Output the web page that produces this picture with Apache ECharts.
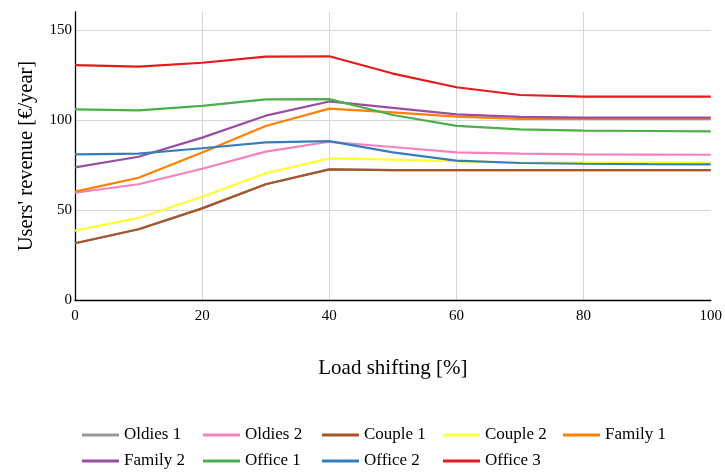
<!DOCTYPE html>
<html>
<head>
<meta charset="utf-8">
<script src="https://cdn.jsdelivr.net/npm/echarts@6/dist/echarts.min.js"></script>
<style>html,body{margin:0;padding:0;background:#fff}#c{width:725px;height:473px}</style>
</head>
<body>
<div id="c"></div>
<script>
const xValues = [0, 10, 20, 30, 40, 50, 60, 70, 80, 90, 100];
const seriesNames = ['Oldies 1', 'Oldies 2', 'Couple 1', 'Couple 2', 'Family 1', 'Family 2', 'Office 1', 'Office 2', 'Office 3'];
const seriesColors = ['#999999', '#f781bf', '#a65628', '#ffff33', '#ff7f00', '#984ea3', '#4daf4a', '#377eb8', '#e41a1c'];
const oldies1 = [31.5, 39.3, 50.9, 64.3, 72.6, 72.2, 72.2, 72.2, 72.2, 72.2, 72.2];
const oldies2 = [59.6, 64.3, 72.9, 82.4, 87.9, 85.0, 82.0, 81.3, 80.9, 80.8, 80.7];
const couple1 = [31.5, 39.3, 50.9, 64.3, 72.6, 72.2, 72.2, 72.2, 72.2, 72.2, 72.2];
const couple2 = [38.5, 45.6, 57.4, 70.4, 78.7, 78.0, 77.0, 76.3, 76.3, 76.3, 76.3];
const family1 = [60.2, 67.9, 81.9, 96.7, 106.3, 104.2, 101.9, 100.6, 100.6, 100.6, 100.6];
const family2 = [73.7, 79.6, 90.2, 102.4, 110.3, 106.7, 103.1, 101.7, 101.3, 101.3, 101.3];
const office1 = [105.9, 105.4, 107.8, 111.5, 111.6, 102.8, 96.7, 94.8, 94.1, 93.9, 93.7];
const office2 = [80.9, 81.3, 84.3, 87.6, 88.3, 82.0, 77.4, 76.1, 75.7, 75.5, 75.4];
const office3 = [130.5, 129.6, 131.8, 135.2, 135.4, 125.8, 118.2, 113.9, 113.0, 113.0, 113.0];
const seriesValues = [oldies1, oldies2, couple1, couple2, family1, family2, office1, office2, office3];

const font = '"Liberation Serif", "Times New Roman", serif';
const chart = echarts.init(document.getElementById('c'), null, {renderer: 'canvas'});
const grid = '#d6d6d6';

// legend laid out as a 5-column grid
const legendCols = [82, 203, 322, 443, 563];
const legendRows = [425, 451];
const legends = seriesNames.map((n, i) => ({
  left: legendCols[i % 5], top: legendRows[Math.floor(i / 5)], padding: 0,
  icon: 'rect', itemWidth: 37, itemHeight: 3, itemGap: 0,
  textStyle: {fontFamily: font, fontSize: 17, color: '#000', lineHeight: 20},
  data: [n]
}));

chart.setOption({
  animation: false,
  backgroundColor: '#fff',
  grid: {left: 75, right: 14, top: 12, bottom: 173, containLabel: false},
  xAxis: {
    type: 'value', min: 0, max: 100, interval: 20,
    name: 'Load shifting [%]', nameLocation: 'middle', nameGap: 58,
    nameTextStyle: {fontFamily: font, fontSize: 21, color: '#000'},
    axisLine: {show: true, lineStyle: {color: '#000', width: 1.3}},
    axisTick: {show: false},
    axisLabel: {fontFamily: font, fontSize: 15, color: '#000', margin: 9},
    splitLine: {show: true, lineStyle: {color: [grid, grid, grid, grid, grid, 'rgba(0,0,0,0)'], width: 1}}
  },
  yAxis: {
    type: 'value', min: 0, max: 160, interval: 50,
    name: "Users' revenue [€/year]", nameLocation: 'middle', nameGap: 38, nameRotate: 90,
    nameTextStyle: {fontFamily: font, fontSize: 20.5, color: '#000'},
    axisLine: {show: true, lineStyle: {color: '#000', width: 1.3}},
    axisTick: {show: false},
    axisLabel: {fontFamily: font, fontSize: 15, color: '#000', margin: 3, showMaxLabel: false},
    splitLine: {show: true, lineStyle: {color: [grid, grid, grid, grid, 'rgba(0,0,0,0)'], width: 1}}
  },
  legend: legends,
  series: seriesNames.map((n, i) => ({
    name: n, type: 'line', showSymbol: false, symbol: 'none',
    color: seriesColors[i],
    lineStyle: {width: 2.2, color: seriesColors[i]},
    data: xValues.map((x, j) => [x, seriesValues[i][j]])
  }))
});
</script>
</body>
</html>
